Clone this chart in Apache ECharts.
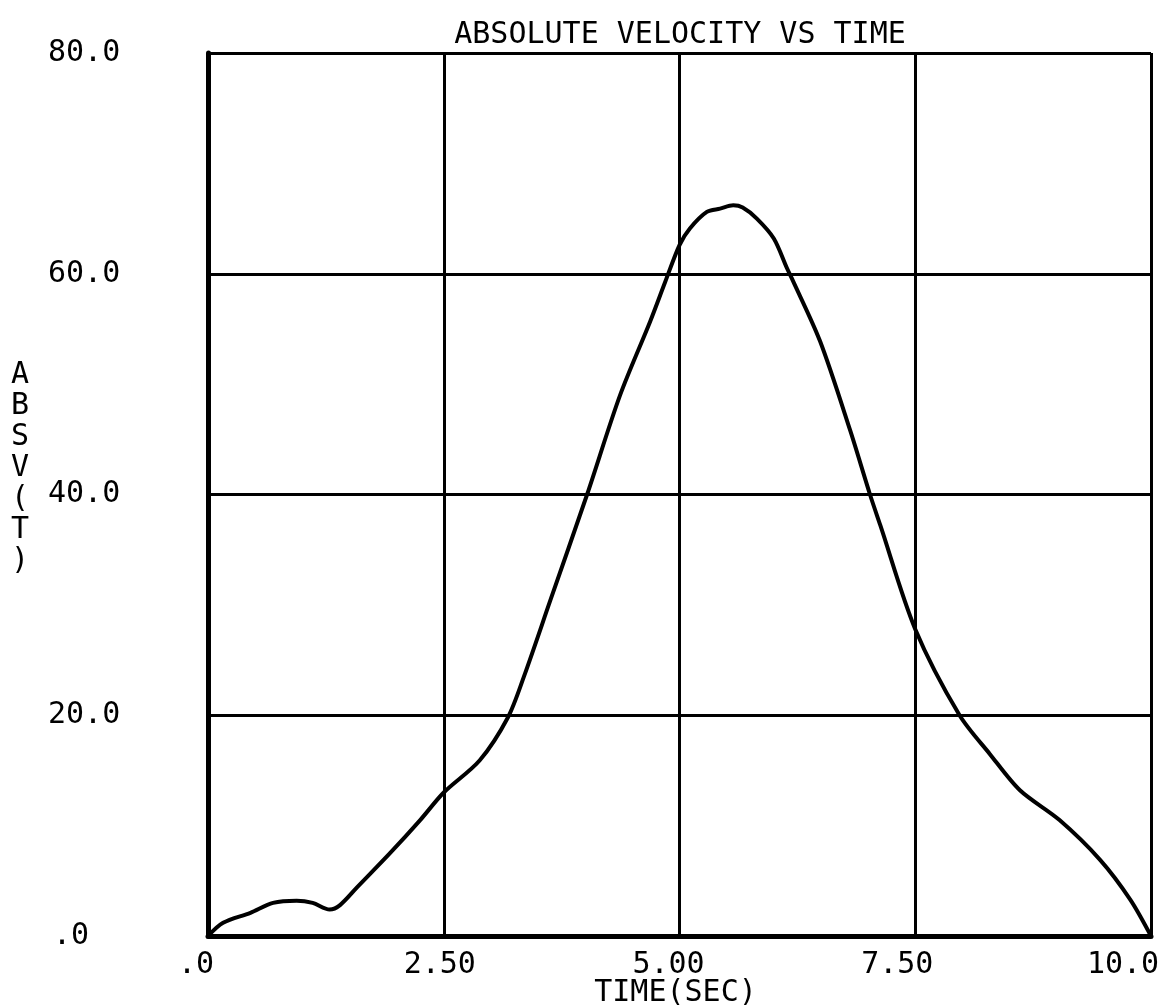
<!DOCTYPE html>
<html>
<head>
<meta charset="utf-8">
<script src="https://cdn.jsdelivr.net/npm/echarts@6/dist/echarts.min.js"></script>
<style>
html,body{margin:0;padding:0;background:#fff;}
#c{width:1162px;height:1005px;}
</style>
</head>
<body>
<div id="c"></div>
<script>
var titleText = 'ABSOLUTE VELOCITY VS TIME';
var xName = 'TIME(SEC)';
var yName = 'ABSV(T)';
var xTicks = [0, 2.5, 5, 7.5, 10];
var xTickLabels = ['.0', '2.50', '5.00', '7.50', '10.0'];
var yTicks = [0, 20, 40, 60, 80];
var yTickLabels = ['.0', '20.0', '40.0', '60.0', '80.0'];
var timeSec = [0, 0.16, 0.45, 0.69, 0.94, 1.11, 1.29, 1.40, 1.58, 1.93, 2.25, 2.5, 2.88, 3.18, 3.35, 3.63, 4.02, 4.37, 4.69, 4.85, 5.0, 5.11, 5.29, 5.43, 5.57, 5.67, 5.82, 6.0, 6.14, 6.19, 6.49, 6.81, 7.02, 7.13, 7.5, 7.97, 8.29, 8.61, 9.03, 9.46, 9.78, 10];
var absV = [0, 1.2, 2.1, 3.0, 3.2, 3.0, 2.4, 2.8, 4.4, 7.5, 10.5, 13.0, 15.9, 19.8, 23.5, 30.4, 40.0, 49.0, 55.7, 59.3, 62.6, 64.1, 65.6, 65.9, 66.2, 66.0, 65.0, 63.2, 60.5, 59.6, 53.9, 45.8, 40.0, 37.2, 27.8, 20.0, 16.5, 13.2, 10.5, 6.9, 3.3, 0];

var FONT = 'DejaVu Sans Mono';
var xShift = [12, 4, 11, 18, 28];
var rich = {};
xShift.forEach(function (s, i) {
  rich['s' + i] = {fontFamily: FONT, fontSize: 30, color: '#000', padding: [0, 2 * s, 0, 0]};
});
var yRich = {
  z: {fontFamily: FONT, fontSize: 30, color: '#000', padding: [0, 0, 0, 5]},
  n: {fontFamily: FONT, fontSize: 30, color: '#000'}
};
var nameRich = {
  a: {fontFamily: FONT, fontSize: 30, color: '#000', lineHeight: 31, align: 'center'},
  g: {fontFamily: FONT, fontSize: 10, color: '#000', lineHeight: 52}
};
var yNameRich = yName.split('').map(function (ch) { return '{a|' + ch + '}'; }).join('\n') + '\n{g| }';
var seriesData = timeSec.map(function (t, i) { return [t, absV[i]]; });

var chart = echarts.init(document.getElementById('c'), null, {renderer: 'canvas'});
chart.setOption({
  backgroundColor: '#fff',
  animation: false,
  title: {
    text: titleText,
    left: 675,
    textAlign: 'center',
    top: 15,
    textStyle: {fontFamily: FONT, fontSize: 30, fontWeight: 'normal', color: '#000'}
  },
  grid: {left: 208, right: 11, top: 53, bottom: 69, outerBoundsMode: 'none', containLabel: false},
  xAxis: {
    type: 'value',
    min: 0, max: 10, interval: 2.5,
    name: xName,
    nameLocation: 'middle',
    nameGap: 42,
    nameMoveOverlap: false,
    nameTextStyle: {fontFamily: FONT, fontSize: 30, color: '#000', padding: [0, 8, 0, 0]},
    axisLine: {show: true, lineStyle: {color: '#000', width: 5}},
    axisTick: {show: false},
    axisLabel: {
      margin: 14,
      fontFamily: FONT, fontSize: 30, color: '#000',
      showMinLabel: true, showMaxLabel: true,
      formatter: function (v) {
        var i = xTicks.indexOf(v);
        return i < 0 ? '' : '{s' + i + '|' + xTickLabels[i] + '}';
      },
      rich: rich
    },
    splitLine: {show: true, lineStyle: {color: '#000', width: 3}}
  },
  yAxis: {
    type: 'value',
    min: 0, max: 80, interval: 20,
    name: yNameRich,
    nameLocation: 'middle',
    nameRotate: 0,
    nameGap: 188,
    nameMoveOverlap: false,
    nameTextStyle: {fontFamily: FONT, fontSize: 30, color: '#000', align: 'center', verticalAlign: 'middle', rich: nameRich},
    axisLine: {show: true, lineStyle: {color: '#000', width: 5}},
    axisTick: {show: false},
    axisLabel: {
      margin: 160,
      align: 'left',
      fontFamily: FONT, fontSize: 30, color: '#000',
      formatter: function (v) {
        var i = yTicks.indexOf(v);
        if (i < 0) return '';
        return (i === 0 ? '{z|' : '{n|') + yTickLabels[i] + '}';
      },
      rich: yRich
    },
    splitLine: {show: true, lineStyle: {color: '#000', width: 3}}
  },
  series: [{
    type: 'line',
    data: seriesData,
    smooth: 0.3,
    symbol: 'none',
    lineStyle: {color: '#000', width: 4},
    clip: false
  }]
});
</script>
</body>
</html>
